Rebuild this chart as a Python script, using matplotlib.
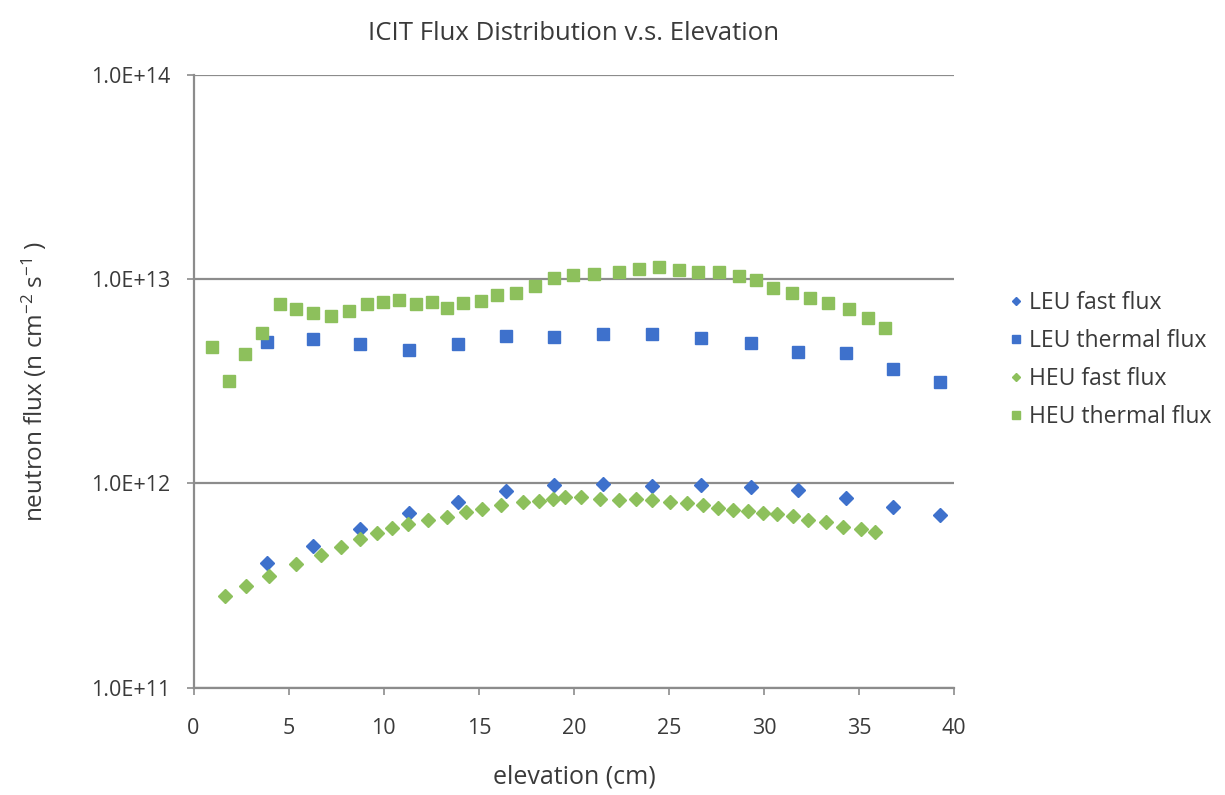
import matplotlib
matplotlib.use("Agg")
import matplotlib.pyplot as plt
from matplotlib.ticker import FixedLocator, FixedFormatter

# ---- data ----
leu_x = [3.85, 6.27, 8.77, 11.33, 13.9, 16.43, 18.95, 21.51, 24.1, 26.7,
         29.3, 31.78, 34.31, 36.78, 39.26]
leu_fast = [4.08e11, 4.95e11, 6.0e11, 7.18e11, 8.13e11, 9.2e11, 9.85e11, 9.9e11,
            9.7e11, 9.8e11, 9.6e11, 9.3e11, 8.5e11, 7.7e11, 7.0e11]
leu_thermal = [4.93e12, 5.1e12, 4.82e12, 4.51e12, 4.82e12, 5.28e12, 5.22e12, 5.4e12,
               5.4e12, 5.16e12, 4.88e12, 4.41e12, 4.36e12, 3.64e12, 3.14e12]

heu_fast_x = [1.66, 2.76, 3.98, 5.40, 6.71, 7.77, 8.77, 9.66, 10.45, 11.30, 12.35,
              13.35, 14.35, 15.19, 16.19, 17.30, 18.14, 18.88, 19.51, 20.35, 21.35,
              22.35, 23.25, 24.09, 25.04, 25.93, 26.78, 27.57, 28.36, 29.15, 29.94,
              30.67, 31.52, 32.30, 33.25, 34.14, 35.09, 35.83]
heu_fast = [2.82e11, 3.16e11, 3.53e11, 4.05e11, 4.48e11, 4.90e11, 5.36e11, 5.73e11,
            6.07e11, 6.34e11, 6.64e11, 6.87e11, 7.26e11, 7.52e11, 7.86e11, 8.13e11,
            8.22e11, 8.41e11, 8.6e11, 8.6e11, 8.4e11, 8.3e11, 8.4e11, 8.3e11, 8.1e11,
            8.0e11, 7.8e11, 7.55e11, 7.4e11, 7.3e11, 7.2e11, 7.05e11, 6.95e11, 6.65e11,
            6.45e11, 6.1e11, 5.95e11, 5.75e11]

heu_thermal_x = [0.97, 1.87, 2.71, 3.61, 4.56, 5.40, 6.30, 7.24, 8.19, 9.14, 9.98,
                 10.82, 11.72, 12.56, 13.35, 14.19, 15.09, 15.98, 16.93, 17.93, 18.93,
                 19.93, 21.04, 22.35, 23.41, 24.46, 25.51, 26.51, 27.62, 28.67, 29.57,
                 30.46, 31.46, 32.41, 33.35, 34.46, 35.46, 36.36]
heu_thermal = [4.67e12, 3.18e12, 4.31e12, 5.46e12, 7.57e12, 7.16e12, 6.84e12, 6.61e12,
               7.0e12, 7.57e12, 7.74e12, 7.92e12, 7.57e12, 7.74e12, 7.24e12, 7.66e12,
               7.83e12, 8.38e12, 8.57e12, 9.27e12, 1.01e13, 1.05e13, 1.06e13, 1.08e13,
               1.12e13, 1.15e13, 1.11e13, 1.08e13, 1.08e13, 1.04e13, 9.9e12, 9.0e12,
               8.5e12, 8.1e12, 7.66e12, 7.16e12, 6.47e12, 5.78e12]

y_ticks = [1e11, 1e12, 1e13, 1e14]
y_ticklabels = ["1.0E+11", "1.0E+12", "1.0E+13", "1.0E+14"]
x_ticks = [0, 5, 10, 15, 20, 25, 30, 35, 40]

title = "ICIT Flux Distribution v.s. Elevation"
xlabel = "elevation (cm)"
ylabel = "neutron flux (n cm$^{-2}$ s$^{-1}$ )"

# ---- style ----
plt.rcParams['font.family'] = ['Open Sans', 'DejaVu Sans']
plt.rcParams['mathtext.fontset'] = 'custom'
plt.rcParams['mathtext.rm'] = 'Open Sans'
plt.rcParams['mathtext.it'] = 'Open Sans'
plt.rcParams['mathtext.default'] = 'regular'
blue = '#3E71CC'
green = '#8DC05C'
grid_c = '#8C8C8C'
text_c = '#3A3A3A'

fig = plt.figure(figsize=(12.25, 7.95), dpi=100)
ax = fig.add_axes([0.158, 0.135, 0.621, 0.771])

ax.plot(leu_x, leu_fast, linestyle='none', marker='D', ms=6.8, color=blue,
        label='LEU fast flux')
ax.plot(leu_x, leu_thermal, linestyle='none', marker='s', ms=8.8, color=blue,
        label='LEU thermal flux')
ax.plot(heu_fast_x, heu_fast, linestyle='none', marker='D', ms=6.8, color=green,
        label='HEU fast flux')
ax.plot(heu_thermal_x, heu_thermal, linestyle='none', marker='s', ms=8.8, color=green,
        label='HEU thermal flux')

ax.set_yscale('log')
ax.set_ylim(1e11, 1e14)
ax.set_xlim(0, 40)
ax.yaxis.set_major_locator(FixedLocator(y_ticks))
ax.yaxis.set_major_formatter(FixedFormatter(y_ticklabels))
ax.yaxis.set_minor_locator(FixedLocator([]))
ax.set_xticks(x_ticks)

ax.grid(axis='y', which='major', color=grid_c, linewidth=1.6)
ax.set_axisbelow(True)
for s in ['top', 'right']:
    ax.spines[s].set_visible(False)
for s in ['left', 'bottom']:
    ax.spines[s].set_color(grid_c)
    ax.spines[s].set_linewidth(1.6)

ax.tick_params(axis='both', colors=grid_c, labelcolor=text_c, labelsize=15.5,
               length=5, width=1.2, direction='out')
ax.tick_params(axis='x', pad=17)
ax.tick_params(axis='y', pad=12)

ax.set_title(title, fontsize=18.5, color=text_c, pad=25)
ax.set_xlabel(xlabel, fontsize=18, color=text_c, labelpad=18)
ax.set_ylabel(ylabel, fontsize=17.5, color=text_c, labelpad=30)

leg = ax.legend(loc='center left', bbox_to_anchor=(990 / 1225, 1 - 360 / 795),
                bbox_transform=fig.transFigure, frameon=False,
                fontsize=16.5, handlelength=0.5, handletextpad=0.3, labelspacing=0.62,
                markerscale=0.6, labelcolor=text_c)

fig.savefig('out.png', dpi=100, facecolor='white')
